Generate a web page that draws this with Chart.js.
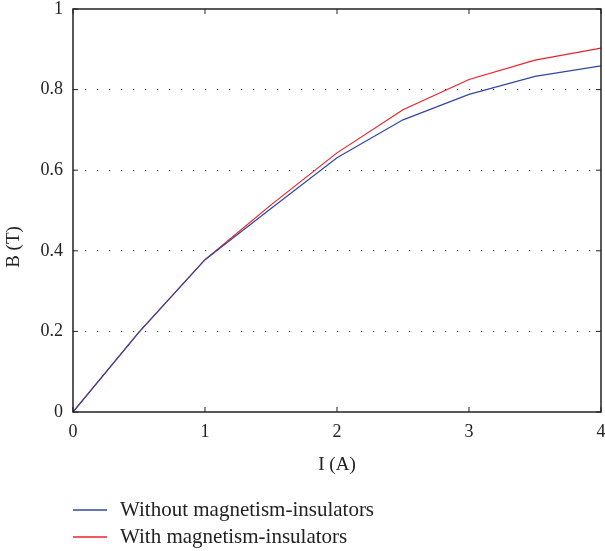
<!DOCTYPE html>
<html>
<head>
<meta charset="utf-8">
<script src="https://cdn.jsdelivr.net/npm/chart.js@4.4.1/dist/chart.umd.min.js"></script>
<style>
  html, body { margin: 0; padding: 0; background: #fff; }
  #wrap { width: 605px; height: 551px; }
</style>
</head>
<body>
<div id="wrap"><canvas id="chart"></canvas></div>
<script>
// Dane
const currentA = [0, 0.5, 1, 1.5, 2, 2.5, 3, 3.5, 4];
const withoutInsulators = [0, 0.198, 0.378, 0.505, 0.631, 0.725, 0.788, 0.833, 0.859];
const withInsulators = [0, 0.198, 0.378, 0.514, 0.643, 0.750, 0.825, 0.873, 0.903];
const xTicks = [0, 1, 2, 3, 4];
const yTicks = [0, 0.2, 0.4, 0.6, 0.8, 1];

const FONT = "'Liberation Serif', 'DejaVu Serif', serif";
const INK = "#222";

// ramka wokół wykresu, wewnętrzne kreski podziałki, tytuł osi Y i legenda
const framePlugin = {
    id: "frame",
    afterDraw(chart) {
        const { ctx, chartArea: a, scales } = chart;
        ctx.save();
        ctx.strokeStyle = INK;
        ctx.lineWidth = 1.5;
        ctx.strokeRect(a.left, a.top, a.right - a.left, a.bottom - a.top);

        ctx.lineWidth = 1;
        const len = 5;
        xTicks.forEach(v => {
            const x = scales.x.getPixelForValue(v);
            ctx.beginPath();
            ctx.moveTo(x, a.bottom); ctx.lineTo(x, a.bottom - len);
            ctx.moveTo(x, a.top); ctx.lineTo(x, a.top + len);
            ctx.stroke();
        });
        yTicks.forEach(v => {
            const y = scales.y.getPixelForValue(v);
            ctx.beginPath();
            ctx.moveTo(a.left, y); ctx.lineTo(a.left + len, y);
            ctx.moveTo(a.right, y); ctx.lineTo(a.right - len, y);
            ctx.stroke();
        });

        // tytuł osi Y (w oryginale przesunięty w dół względem środka)
        ctx.fillStyle = INK;
        ctx.font = "19px " + FONT;
        ctx.textAlign = "center";
        ctx.textBaseline = "middle";
        ctx.save();
        ctx.translate(14, 247);
        ctx.rotate(-Math.PI / 2);
        ctx.fillText("B (T)", 0, 0);
        ctx.restore();

        // legenda
        ctx.font = "21px " + FONT;
        ctx.textAlign = "left";
        chart.data.datasets.forEach((ds, i) => {
            const y = 510 + i * 27;
            ctx.strokeStyle = ds.borderColor;
            ctx.lineWidth = 1.3;
            ctx.beginPath();
            ctx.moveTo(73, y); ctx.lineTo(107, y);
            ctx.stroke();
            ctx.fillText(ds.label, 120, y);
        });
        ctx.restore();
    }
};

new Chart(document.getElementById("chart"), {
    type: "line",
    data: {
        datasets: [
            {
                label: "Without magnetism-insulators",
                data: currentA.map((x, i) => ({ x, y: withoutInsulators[i] })),
                borderColor: "#3346a3",
                borderWidth: 1.2,
                pointRadius: 0,
                tension: 0
            },
            {
                label: "With magnetism-insulators",
                data: currentA.map((x, i) => ({ x, y: withInsulators[i] })),
                borderColor: "#e8232b",
                borderWidth: 1.2,
                pointRadius: 0,
                tension: 0
            }
        ]
    },
    options: {
        responsive: true,
        maintainAspectRatio: false,
        animation: false,
        layout: { padding: { left: 0, right: 4, top: 9, bottom: 70 } },
        plugins: { legend: { display: false }, tooltip: { enabled: false } },
        scales: {
            x: {
                type: "linear",
                min: 0,
                max: 4,
                afterBuildTicks: s => { s.ticks = xTicks.map(v => ({ value: v })); },
                afterFit: s => { s.height = 69; s.paddingLeft = 0; s.paddingRight = 0; },
                grid: { display: false, drawTicks: false },
                border: { display: false },
                ticks: { color: INK, padding: 9, font: { family: FONT, size: 18 } },
                title: { display: true, text: "I (A)", color: INK, padding: { top: 0, bottom: 5 }, font: { family: FONT, size: 19 } }
            },
            y: {
                type: "linear",
                min: 0,
                max: 1,
                afterBuildTicks: s => { s.ticks = yTicks.map(v => ({ value: v })); },
                afterFit: s => { s.width = 73; s.paddingTop = 0; s.paddingBottom = 0; },
                grid: {
                    drawTicks: false,
                    color: c => (c.tick.value > 0 && c.tick.value < 1) ? "#444" : "rgba(0,0,0,0)",
                    lineWidth: 1
                },
                border: { display: false, dash: [1.2, 10.8] },
                ticks: {
                    color: INK,
                    padding: 10,
                    font: { family: FONT, size: 18 },
                    callback: v => String(Math.round(v * 10) / 10)
                },
                title: { display: false }
            }
        }
    },
    plugins: [framePlugin]
});
</script>
</body>
</html>
